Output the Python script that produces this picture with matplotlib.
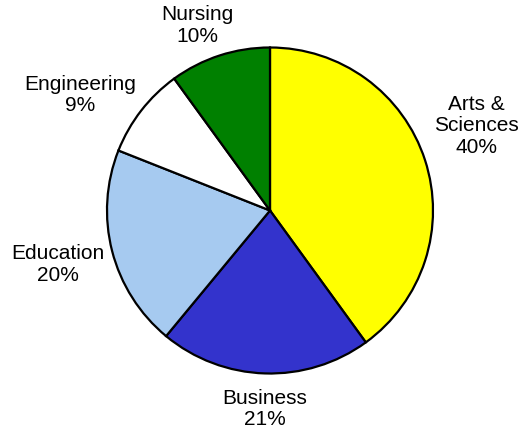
import numpy as np
import matplotlib
matplotlib.use("Agg")
import matplotlib.pyplot as plt

# college share of enrollment, clockwise from 12 o'clock
colleges = ["Arts &\nSciences", "Business", "Education", "Engineering", "Nursing"]
shares = [40, 21, 20, 9, 10]
colors = ["#FFFF00", "#3333CC", "#A6CAF0", "#FFFFFF", "#008000"]

# label placement tweaks (radius factor, angle shift in degrees)
label_dist = [1.37, 1.22, 1.34, 1.36, 1.22]
label_shift = [4.3, 0.4, -0.1, 6.5, 3.5]

plt.rcParams["font.family"] = ["Liberation Sans", "DejaVu Sans"]

W, H = 524, 434
fig = plt.figure(figsize=(W / 100, H / 100), dpi=100)
ax = fig.add_axes([0, 0, 1, 1])

cx, cy, r = 270, H - 210.5, 163
wedges, _ = ax.pie(shares, colors=colors, startangle=90, counterclock=False,
                   center=(cx, cy), radius=r,
                   wedgeprops=dict(edgecolor="black", linewidth=1.6))

for w, name, s, d, sh in zip(wedges, colleges, shares, label_dist, label_shift):
    mid = np.deg2rad((w.theta1 + w.theta2) / 2 + sh)
    x = cx + r * d * np.cos(mid)
    y = cy + r * d * np.sin(mid)
    ax.text(x, y, "%s\n%d%%" % (name, s), ha="center", va="center",
            fontsize=15, linespacing=1.15)

ax.set_xlim(0, W)
ax.set_ylim(0, H)
ax.axis("off")

fig.savefig("out.png", dpi=100)
